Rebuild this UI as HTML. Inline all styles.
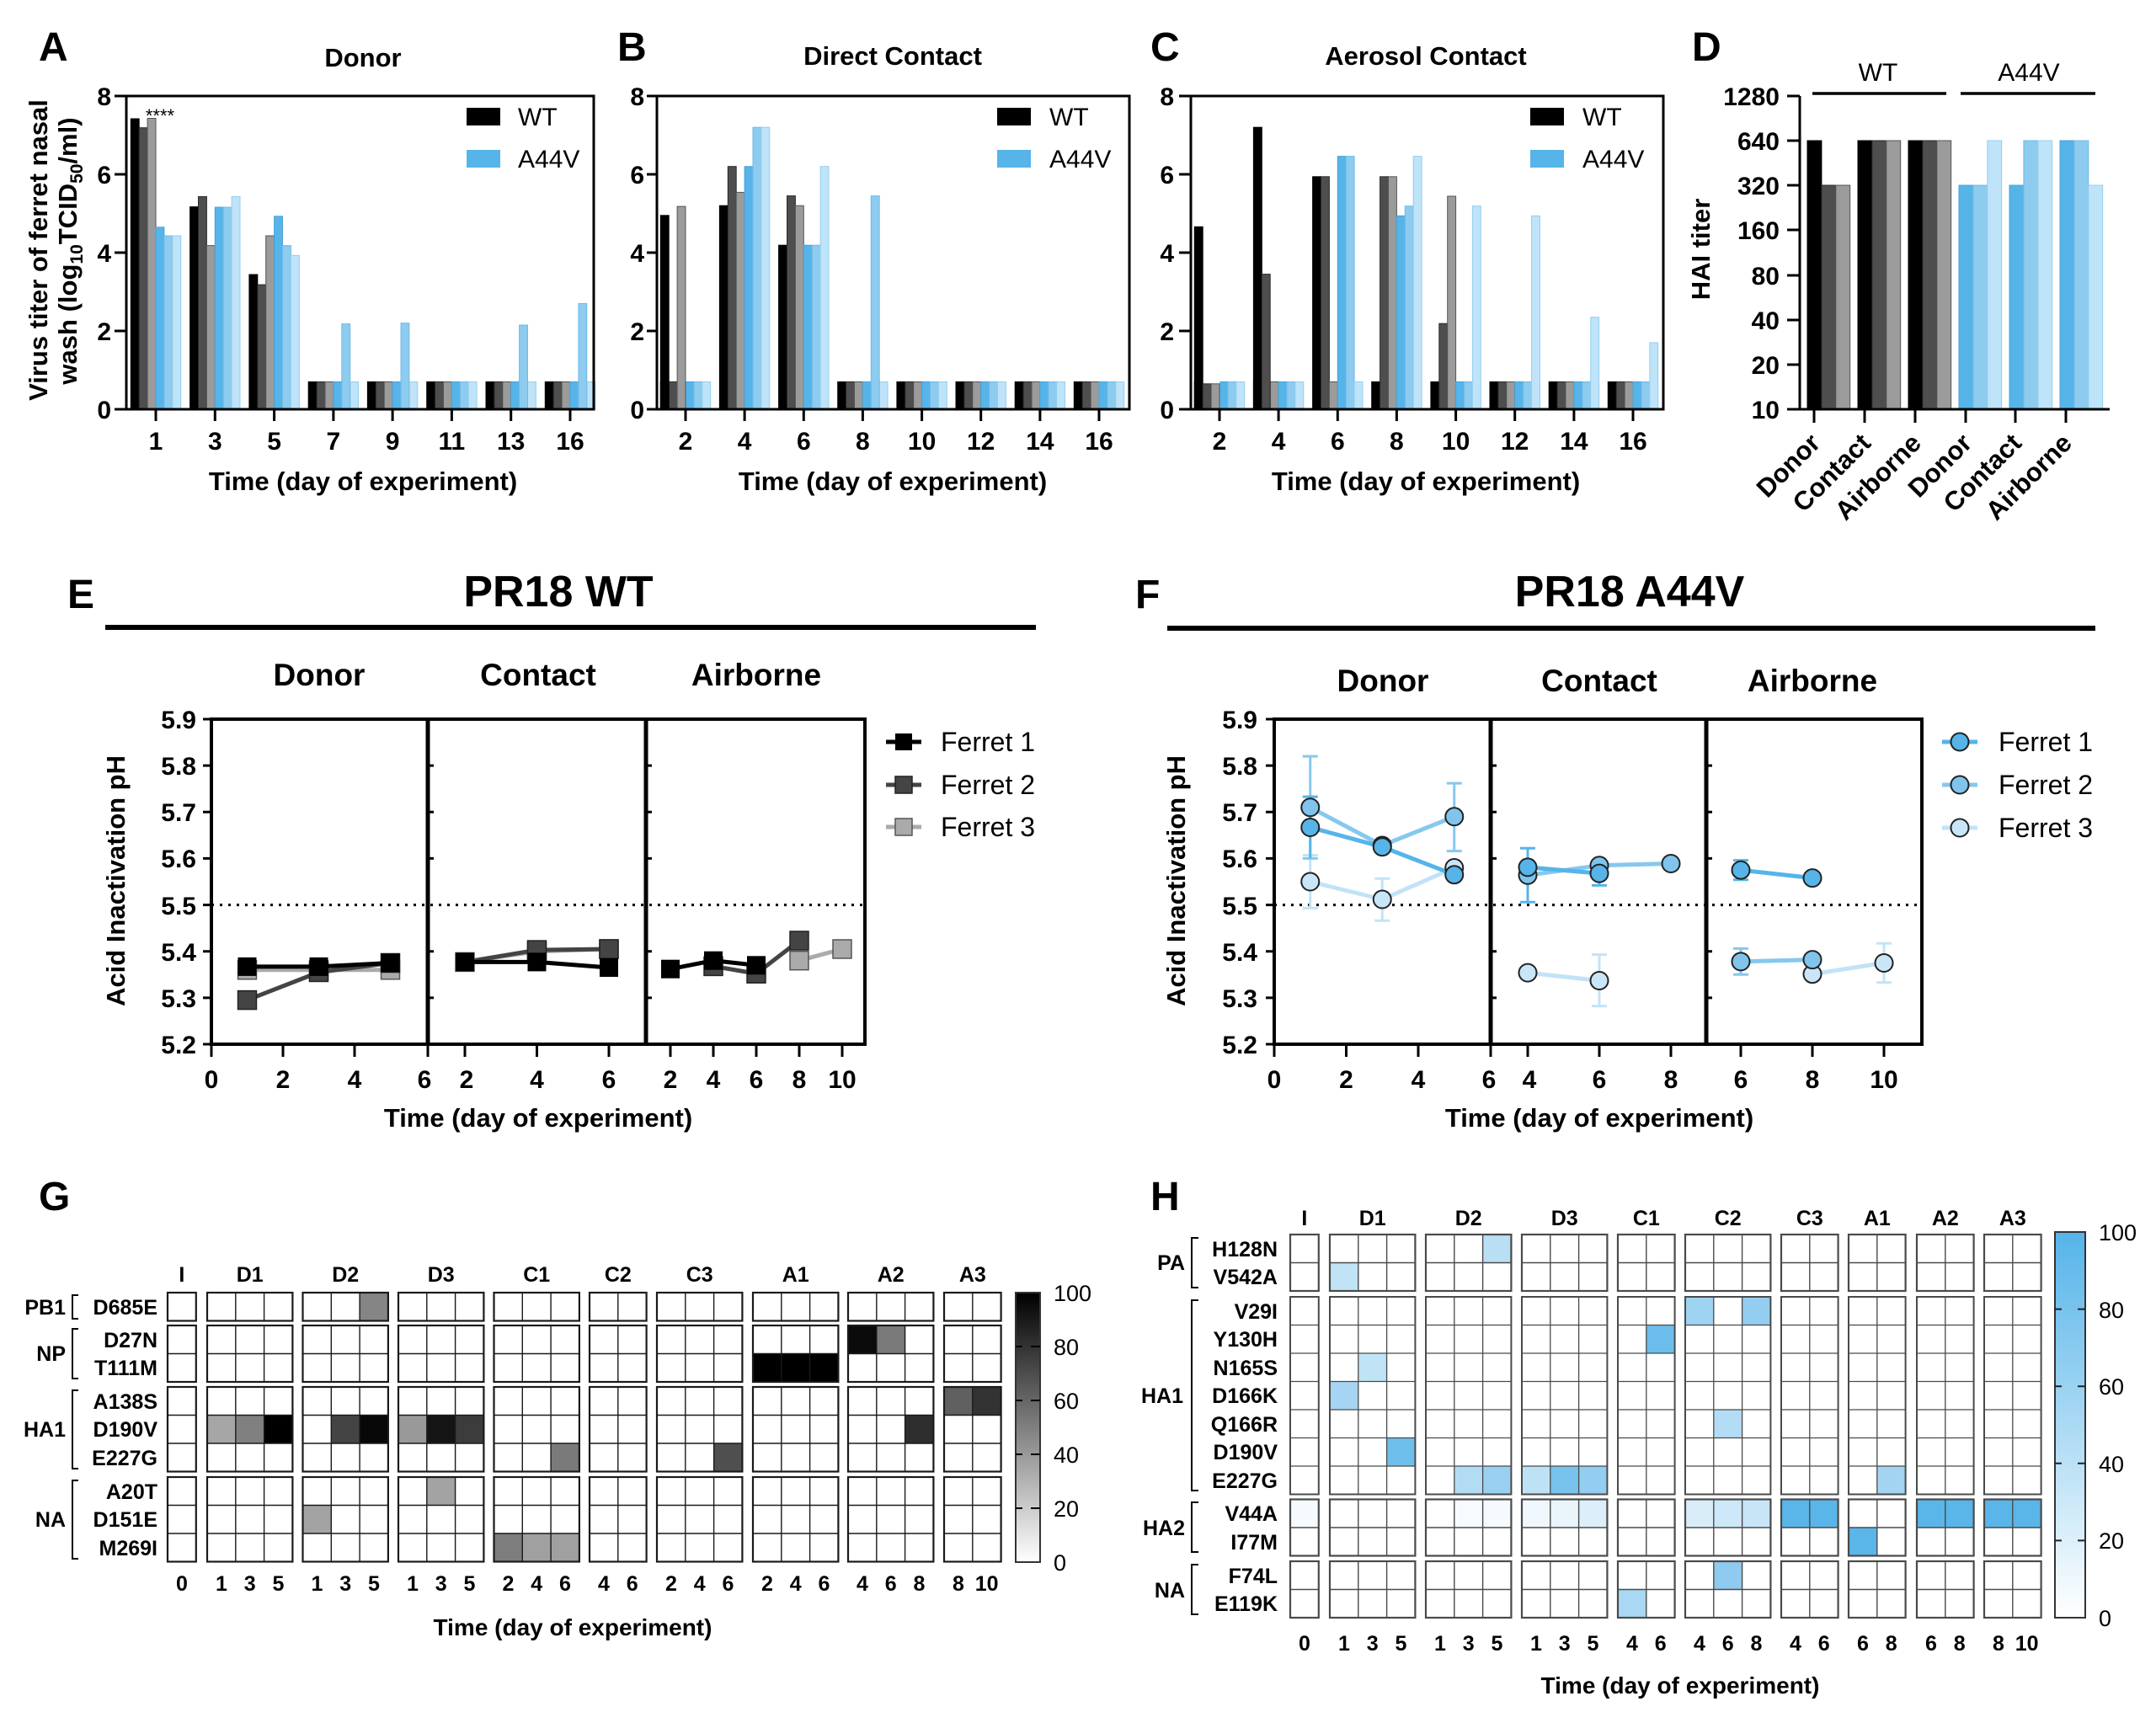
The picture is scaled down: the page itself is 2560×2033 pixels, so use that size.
<!DOCTYPE html>
<html><head><meta charset="utf-8"><style>
html,body{margin:0;padding:0;background:#fff}
svg{display:block}
text{font-family:"Liberation Sans",Arial,sans-serif;fill:#000}
.bd{font-weight:bold}
.k{fill:#000;stroke:#000}
.d{fill:#4e4e4e;stroke:#2a2a2a}
.g{fill:#9b9b9b;stroke:#555}
.b1{fill:#56b4e9;stroke:#4aa3d6}
.b2{fill:#8dcbef;stroke:#6fbbe8}
.b3{fill:#bfe3f8;stroke:#94cff0}
.bars rect{stroke-width:1}
</style></head><body>
<svg width="2560" height="2033" viewBox="0 0 2560 2033" xmlns="http://www.w3.org/2000/svg">
<defs>
<g id="low" stroke-width="1">
<rect x="0" y="-32.6" width="9.9" height="32.6" fill="#000" stroke="#000"/>
<rect x="9.9" y="-32.6" width="9.9" height="32.6" fill="#4e4e4e" stroke="#2a2a2a"/>
<rect x="19.8" y="-32.6" width="9.9" height="32.6" fill="#9b9b9b" stroke="#555"/>
<rect x="29.7" y="-32.6" width="9.9" height="32.6" fill="#56b4e9" stroke="#4aa3d6"/>
<rect x="39.6" y="-32.6" width="9.9" height="32.6" fill="#8dcbef" stroke="#6fbbe8"/>
<rect x="49.5" y="-32.6" width="9.9" height="32.6" fill="#bfe3f8" stroke="#94cff0"/>
</g>
<g id="c1r1" fill="none"><rect width="33.8" height="33.5" stroke-width="2.2"/></g>
<g id="c2r1" fill="none"><path d="M33.8,0V33.5" stroke-width="1.4"/><rect width="67.6" height="33.5" stroke-width="2.2"/></g>
<g id="c3r1" fill="none"><path d="M33.8,0V33.5M67.6,0V33.5" stroke-width="1.4"/><rect width="101.4" height="33.5" stroke-width="2.2"/></g>
<g id="c1r2" fill="none"><path d="M0,33.5H33.8" stroke-width="1.4"/><rect width="33.8" height="67" stroke-width="2.2"/></g>
<g id="c2r2" fill="none"><path d="M33.8,0V67M0,33.5H67.6" stroke-width="1.4"/><rect width="67.6" height="67" stroke-width="2.2"/></g>
<g id="c3r2" fill="none"><path d="M33.8,0V67M67.6,0V67M0,33.5H101.4" stroke-width="1.4"/><rect width="101.4" height="67" stroke-width="2.2"/></g>
<g id="c1r3" fill="none"><path d="M0,33.5H33.8M0,67H33.8" stroke-width="1.4"/><rect width="33.8" height="100.5" stroke-width="2.2"/></g>
<g id="c2r3" fill="none"><path d="M33.8,0V100.5M0,33.5H67.6M0,67H67.6" stroke-width="1.4"/><rect width="67.6" height="100.5" stroke-width="2.2"/></g>
<g id="c3r3" fill="none"><path d="M33.8,0V100.5M67.6,0V100.5M0,33.5H101.4M0,67H101.4" stroke-width="1.4"/><rect width="101.4" height="100.5" stroke-width="2.2"/></g>
<g id="c1r7" fill="none"><path d="M0,33.5H33.8M0,67H33.8M0,100.5H33.8M0,134H33.8M0,167.5H33.8M0,201H33.8" stroke-width="1.3"/><rect width="33.8" height="234.5" stroke-width="2"/></g>
<g id="c2r7" fill="none"><path d="M33.8,0V234.5M0,33.5H67.6M0,67H67.6M0,100.5H67.6M0,134H67.6M0,167.5H67.6M0,201H67.6" stroke-width="1.3"/><rect width="67.6" height="234.5" stroke-width="2"/></g>
<g id="c3r7" fill="none"><path d="M33.8,0V234.5M67.6,0V234.5M0,33.5H101.4M0,67H101.4M0,100.5H101.4M0,134H101.4M0,167.5H101.4M0,201H101.4" stroke-width="1.3"/><rect width="101.4" height="234.5" stroke-width="2"/></g>
<linearGradient id="gk" x1="0" y1="0" x2="0" y2="1"><stop offset="0" stop-color="#000"/><stop offset="1" stop-color="#fff"/></linearGradient>
<linearGradient id="gb" x1="0" y1="0" x2="0" y2="1"><stop offset="0" stop-color="#56b4e9"/><stop offset="1" stop-color="#fff"/></linearGradient>
</defs>
<rect width="2560" height="2033" fill="#fff"/>

<!-- ================= PANEL A ================= -->
<text x="46" y="72" font-size="48" class="bd">A</text>
<text x="431" y="79" font-size="31" class="bd" text-anchor="middle">Donor</text>
<g class="bars">
<g transform="translate(155.3,486)">
<rect class="k" x="0" y="-345" width="9.9" height="345"/>
<rect class="d" x="9.9" y="-334.3" width="9.9" height="334.3"/>
<rect class="g" x="19.8" y="-345.5" width="9.9" height="345.5"/>
<rect class="b1" x="29.7" y="-216.2" width="9.9" height="216.2"/>
<rect class="b2" x="39.6" y="-206" width="9.9" height="206"/>
<rect class="b3" x="49.5" y="-206" width="9.9" height="206"/>
</g>
<g transform="translate(225.6,486)">
<rect class="k" x="0" y="-240.4" width="9.9" height="240.4"/>
<rect class="d" x="9.9" y="-252.5" width="9.9" height="252.5"/>
<rect class="g" x="19.8" y="-194.4" width="9.9" height="194.4"/>
<rect class="b1" x="29.7" y="-239.9" width="9.9" height="239.9"/>
<rect class="b2" x="39.6" y="-239.9" width="9.9" height="239.9"/>
<rect class="b3" x="49.5" y="-252.5" width="9.9" height="252.5"/>
</g>
<g transform="translate(295.9,486)">
<rect class="k" x="0" y="-160" width="9.9" height="160"/>
<rect class="d" x="9.9" y="-147.9" width="9.9" height="147.9"/>
<rect class="g" x="19.8" y="-206" width="9.9" height="206"/>
<rect class="b1" x="29.7" y="-229.2" width="9.9" height="229.2"/>
<rect class="b2" x="39.6" y="-194.4" width="9.9" height="194.4"/>
<rect class="b3" x="49.5" y="-182.7" width="9.9" height="182.7"/>
</g>
<use href="#low" x="366.2" y="486"/><rect class="b2" x="405.8" y="384.6" width="9.9" height="101.4"/>
<use href="#low" x="436.4" y="486"/><rect class="b2" x="476" y="383.7" width="9.9" height="102.3"/>
<use href="#low" x="506.7" y="486"/>
<use href="#low" x="577" y="486"/><rect class="b2" x="616.6" y="386" width="9.9" height="100"/>
<use href="#low" x="647.3" y="486"/><rect class="b2" x="686.9" y="360.4" width="9.9" height="125.6"/>
</g>
<rect x="150" y="114" width="555" height="372" fill="none" stroke="#000" stroke-width="3"/>
<path d="M136,114H150M136,207H150M136,300H150M136,393H150M136,486H150M185,486V500M255.3,486V500M325.6,486V500M395.9,486V500M466.1,486V500M536.4,486V500M606.7,486V500M677,486V500" stroke="#000" stroke-width="3"/>
<g font-size="30" class="bd" text-anchor="end">
<text x="132" y="125">8</text><text x="132" y="218">6</text><text x="132" y="311">4</text><text x="132" y="404">2</text><text x="132" y="497">0</text>
</g>
<g font-size="30" class="bd" text-anchor="middle">
<text x="185" y="534">1</text><text x="255.3" y="534">3</text><text x="325.6" y="534">5</text><text x="395.9" y="534">7</text><text x="466.1" y="534">9</text><text x="536.4" y="534">11</text><text x="606.7" y="534">13</text><text x="677" y="534">16</text>
</g>
<text x="431" y="582" font-size="31" class="bd" text-anchor="middle">Time (day of experiment)</text>
<text transform="translate(56,297) rotate(-90)" font-size="31" class="bd" text-anchor="middle">Virus titer of ferret nasal</text>
<text transform="translate(91,298) rotate(-90)" font-size="31" class="bd" text-anchor="middle">wash (log<tspan font-size="21" dy="7">10</tspan><tspan dy="-7">TCID</tspan><tspan font-size="21" dy="7">50</tspan><tspan dy="-7">/ml)</tspan></text>
<text x="190" y="145" font-size="22" text-anchor="middle">****</text>
<rect x="554" y="128" width="40" height="21" fill="#000"/>
<text x="615" y="149" font-size="30">WT</text>
<rect x="554" y="178" width="40" height="21" fill="#56b4e9"/>
<text x="615" y="199" font-size="30">A44V</text>

<!-- ================= PANEL B ================= -->
<text x="733" y="72" font-size="48" class="bd">B</text>
<text x="1060" y="77" font-size="31" class="bd" text-anchor="middle">Direct Contact</text>
<g class="bars">
<use href="#low" x="784.3" y="486"/>
<rect class="k" x="784.3" y="255.8" width="9.9" height="230.2"/>
<rect class="g" x="804.1" y="245.1" width="9.9" height="240.9"/>
<g transform="translate(854.4,486)">
<rect class="k" x="0" y="-241.8" width="9.9" height="241.8"/>
<rect class="d" x="9.9" y="-288.3" width="9.9" height="288.3"/>
<rect class="g" x="19.8" y="-257.6" width="9.9" height="257.6"/>
<rect class="b1" x="29.7" y="-288.3" width="9.9" height="288.3"/>
<rect class="b2" x="39.6" y="-334.8" width="9.9" height="334.8"/>
<rect class="b3" x="49.5" y="-334.8" width="9.9" height="334.8"/>
</g>
<g transform="translate(924.6,486)">
<rect class="k" x="0" y="-194.8" width="9.9" height="194.8"/>
<rect class="d" x="9.9" y="-253.4" width="9.9" height="253.4"/>
<rect class="g" x="19.8" y="-241.8" width="9.9" height="241.8"/>
<rect class="b1" x="29.7" y="-194.8" width="9.9" height="194.8"/>
<rect class="b2" x="39.6" y="-194.8" width="9.9" height="194.8"/>
<rect class="b3" x="49.5" y="-288.3" width="9.9" height="288.3"/>
</g>
<use href="#low" x="994.7" y="486"/><rect class="b2" x="1034.3" y="232.6" width="9.9" height="253.4"/>
<use href="#low" x="1064.9" y="486"/>
<use href="#low" x="1135" y="486"/>
<use href="#low" x="1205.2" y="486"/>
<use href="#low" x="1275.3" y="486"/>
</g>
<rect x="780" y="114" width="561" height="372" fill="none" stroke="#000" stroke-width="3"/>
<path d="M768,114H780M768,207H780M768,300H780M768,393H780M768,486H780M814,486V500M884.1,486V500M954.3,486V500M1024.4,486V500M1094.6,486V500M1164.7,486V500M1234.9,486V500M1305,486V500" stroke="#000" stroke-width="3"/>
<g font-size="30" class="bd" text-anchor="end">
<text x="765" y="125">8</text><text x="765" y="218">6</text><text x="765" y="311">4</text><text x="765" y="404">2</text><text x="765" y="497">0</text>
</g>
<g font-size="30" class="bd" text-anchor="middle">
<text x="814" y="534">2</text><text x="884.1" y="534">4</text><text x="954.3" y="534">6</text><text x="1024.4" y="534">8</text><text x="1094.6" y="534">10</text><text x="1164.7" y="534">12</text><text x="1234.9" y="534">14</text><text x="1305" y="534">16</text>
</g>
<text x="1060" y="582" font-size="31" class="bd" text-anchor="middle">Time (day of experiment)</text>
<rect x="1184" y="128" width="40" height="21" fill="#000"/>
<text x="1246" y="149" font-size="30">WT</text>
<rect x="1184" y="178" width="40" height="21" fill="#56b4e9"/>
<text x="1246" y="199" font-size="30">A44V</text>

<!-- ================= PANEL C ================= -->
<text x="1366" y="72" font-size="48" class="bd">C</text>
<text x="1693" y="77" font-size="31" class="bd" text-anchor="middle">Aerosol Contact</text>
<g class="bars">
<use href="#low" x="1418.3" y="486"/>
<rect fill="#fff" stroke="none" x="1427.7" y="450" width="20.6" height="36"/>
<g transform="translate(1418.3,486)">
<rect class="k" x="0" y="-216.7" width="9.9" height="216.7"/>
<rect class="d" x="9.9" y="-30.2" width="9.9" height="30.2"/>
<rect class="g" x="19.8" y="-30.2" width="9.9" height="30.2"/>
</g>
<use href="#low" x="1488.4" y="486"/>
<g transform="translate(1488.4,486)">
<rect class="k" x="0" y="-334.8" width="9.9" height="334.8"/>
<rect class="d" x="9.9" y="-160.4" width="9.9" height="160.4"/>
</g>
<g transform="translate(1558.6,486)">
<rect class="k" x="0" y="-276.2" width="9.9" height="276.2"/>
<rect class="d" x="9.9" y="-276.2" width="9.9" height="276.2"/>
<rect class="g" x="19.8" y="-32.6" width="9.9" height="32.6"/>
<rect class="b1" x="29.7" y="-300.4" width="9.9" height="300.4"/>
<rect class="b2" x="39.6" y="-300.4" width="9.9" height="300.4"/>
<rect class="b3" x="49.5" y="-32.6" width="9.9" height="32.6"/>
</g>
<g transform="translate(1628.7,486)">
<rect class="k" x="0" y="-32.6" width="9.9" height="32.6"/>
<rect class="d" x="9.9" y="-276.2" width="9.9" height="276.2"/>
<rect class="g" x="19.8" y="-276.2" width="9.9" height="276.2"/>
<rect class="b1" x="29.7" y="-229.7" width="9.9" height="229.7"/>
<rect class="b2" x="39.6" y="-241.3" width="9.9" height="241.3"/>
<rect class="b3" x="49.5" y="-300.4" width="9.9" height="300.4"/>
</g>
<g transform="translate(1698.9,486)">
<rect class="k" x="0" y="-32.6" width="9.9" height="32.6"/>
<rect class="d" x="9.9" y="-101.8" width="9.9" height="101.8"/>
<rect class="g" x="19.8" y="-253" width="9.9" height="253"/>
<rect class="b1" x="29.7" y="-32.6" width="9.9" height="32.6"/>
<rect class="b2" x="39.6" y="-32.6" width="9.9" height="32.6"/>
<rect class="b3" x="49.5" y="-241.3" width="9.9" height="241.3"/>
</g>
<use href="#low" x="1769" y="486"/><rect class="b3" x="1818.5" y="256.3" width="9.9" height="229.7"/>
<use href="#low" x="1839.2" y="486"/><rect class="b3" x="1888.7" y="376.7" width="9.9" height="109.3"/>
<use href="#low" x="1909.3" y="486"/><rect class="b3" x="1958.8" y="406.9" width="9.9" height="79.1"/>
</g>
<rect x="1414" y="114" width="561" height="372" fill="none" stroke="#000" stroke-width="3"/>
<path d="M1400,114H1414M1400,207H1414M1400,300H1414M1400,393H1414M1400,486H1414M1448,486V500M1518.1,486V500M1588.3,486V500M1658.4,486V500M1728.6,486V500M1798.7,486V500M1868.9,486V500M1939,486V500" stroke="#000" stroke-width="3"/>
<g font-size="30" class="bd" text-anchor="end">
<text x="1394" y="125">8</text><text x="1394" y="218">6</text><text x="1394" y="311">4</text><text x="1394" y="404">2</text><text x="1394" y="497">0</text>
</g>
<g font-size="30" class="bd" text-anchor="middle">
<text x="1448" y="534">2</text><text x="1518.1" y="534">4</text><text x="1588.3" y="534">6</text><text x="1658.4" y="534">8</text><text x="1728.6" y="534">10</text><text x="1798.7" y="534">12</text><text x="1868.9" y="534">14</text><text x="1939" y="534">16</text>
</g>
<text x="1693" y="582" font-size="31" class="bd" text-anchor="middle">Time (day of experiment)</text>
<rect x="1817" y="128" width="40" height="21" fill="#000"/>
<text x="1879" y="149" font-size="30">WT</text>
<rect x="1817" y="178" width="40" height="21" fill="#56b4e9"/>
<text x="1879" y="199" font-size="30">A44V</text>

<!-- ================= PANEL D ================= -->
<text x="2009" y="72" font-size="48" class="bd">D</text>
<text x="2230" y="96" font-size="30" text-anchor="middle">WT</text>
<text x="2409" y="96" font-size="30" text-anchor="middle">A44V</text>
<path d="M2152,111H2311M2328,111H2488" stroke="#000" stroke-width="3.5"/>
<g class="bars">
<rect class="k" x="2146" y="167" width="16.9" height="319"/>
<rect class="d" x="2162.9" y="220" width="16.9" height="266"/>
<rect class="g" x="2179.8" y="220" width="16.9" height="266"/>
<rect class="k" x="2206" y="167" width="16.9" height="319"/>
<rect class="d" x="2222.9" y="167" width="16.9" height="319"/>
<rect class="g" x="2239.8" y="167" width="16.9" height="319"/>
<rect class="k" x="2266" y="167" width="16.9" height="319"/>
<rect class="d" x="2282.9" y="167" width="16.9" height="319"/>
<rect class="g" x="2299.8" y="167" width="16.9" height="319"/>
<rect class="b1" x="2326" y="220" width="16.9" height="266"/>
<rect class="b2" x="2342.9" y="220" width="16.9" height="266"/>
<rect class="b3" x="2359.8" y="167" width="16.9" height="319"/>
<rect class="b1" x="2386" y="220" width="16.9" height="266"/>
<rect class="b2" x="2402.9" y="167" width="16.9" height="319"/>
<rect class="b3" x="2419.8" y="167" width="16.9" height="319"/>
<rect class="b1" x="2446" y="167" width="16.9" height="319"/>
<rect class="b2" x="2462.9" y="167" width="16.9" height="319"/>
<rect class="b3" x="2479.8" y="220" width="16.9" height="266"/>
</g>
<path d="M2137,114V487M2122,486H2505M2122,114H2137M2122,167H2137M2122,220H2137M2122,273H2137M2122,327H2137M2122,380H2137M2122,433H2137M2154,486V502M2214,486V502M2274,486V502M2334,486V502M2393,486V502M2453,486V502" stroke="#000" stroke-width="3"/>
<g font-size="30" class="bd" text-anchor="end">
<text x="2113" y="125">1280</text><text x="2113" y="178">640</text><text x="2113" y="231">320</text><text x="2113" y="284">160</text><text x="2113" y="338">80</text><text x="2113" y="391">40</text><text x="2113" y="444">20</text><text x="2113" y="497">10</text>
</g>
<g font-size="31" class="bd" text-anchor="end">
<text transform="translate(2163,528) rotate(-45)">Donor</text>
<text transform="translate(2223,528) rotate(-45)">Contact</text>
<text transform="translate(2283,528) rotate(-45)">Airborne</text>
<text transform="translate(2343,528) rotate(-45)">Donor</text>
<text transform="translate(2402,528) rotate(-45)">Contact</text>
<text transform="translate(2462,528) rotate(-45)">Airborne</text>
</g>
<text transform="translate(2030,296) rotate(-90)" font-size="31" class="bd" text-anchor="middle">HAI titer</text>

<!-- ================= PANEL E ================= -->
<text x="80" y="722" font-size="48" class="bd">E</text>
<text x="663" y="720" font-size="52" class="bd" text-anchor="middle">PR18 WT</text>
<path d="M125,745H1230" stroke="#000" stroke-width="6"/>
<g font-size="37" class="bd" text-anchor="middle">
<text x="379" y="814">Donor</text><text x="639" y="814">Contact</text><text x="898" y="814">Airborne</text>
</g>
<path d="M251,1074.6H1027" stroke="#000" stroke-width="3" stroke-dasharray="3,7"/>
<rect x="251" y="854" width="776" height="386" fill="none" stroke="#000" stroke-width="4"/>
<path d="M508,854V1240M767,854V1240" stroke="#000" stroke-width="5"/>
<path d="M241,854H251M241,909.1H251M241,964.3H251M241,1019.4H251M241,1074.6H251M241,1129.7H251M241,1184.9H251M241,1240H251M508,909.1H515M508,964.3H515M508,1019.4H515M508,1129.7H515M508,1184.9H515M767,909.1H774M767,964.3H774M767,1019.4H774M767,1129.7H774M767,1184.9H774M251,1240V1255M336,1240V1255M421,1240V1255M508,1240V1255M552,1240V1255M637.5,1240V1255M723,1240V1255M796,1240V1255M847,1240V1255M898,1240V1255M949,1240V1255M1000,1240V1255" stroke="#000" stroke-width="3"/>
<g font-size="30" class="bd" text-anchor="end">
<text x="233" y="865">5.9</text><text x="233" y="920">5.8</text><text x="233" y="975">5.7</text><text x="233" y="1030">5.6</text><text x="233" y="1086">5.5</text><text x="233" y="1141">5.4</text><text x="233" y="1196">5.3</text><text x="233" y="1251">5.2</text>
</g>
<g font-size="30" class="bd" text-anchor="middle">
<text x="251" y="1292">0</text><text x="336" y="1292">2</text><text x="421" y="1292">4</text><text x="504" y="1292">6</text><text x="554" y="1292">2</text><text x="637.5" y="1292">4</text><text x="723" y="1292">6</text><text x="796" y="1292">2</text><text x="847" y="1292">4</text><text x="898" y="1292">6</text><text x="949" y="1292">8</text><text x="1000" y="1292">10</text>
</g>
<text x="639" y="1338" font-size="31" class="bd" text-anchor="middle">Time (day of experiment)</text>
<text transform="translate(148,1046) rotate(-90)" font-size="31" class="bd" text-anchor="middle">Acid Inactivation pH</text>
<!-- E data -->
<g fill="none" stroke-width="5" stroke-linejoin="round">
<polyline points="293.5,1151.8 378.5,1151.8 463.5,1151.8" stroke="#aaa"/>
<polyline points="552,1142.4 637.5,1129.7 723,1127" stroke="#aaa"/>
<polyline points="949,1140.7 1000,1127" stroke="#aaa"/>
<polyline points="293.5,1187.6 378.5,1154.5 463.5,1143.5" stroke="#444"/>
<polyline points="552,1142.4 637.5,1128.1 723,1127" stroke="#444"/>
<polyline points="847,1147.4 898,1156.2 949,1117" stroke="#444"/>
</g>
<g fill="#aaa" stroke="#555" stroke-width="1.5">
<rect x="282.5" y="1140.8" width="22" height="22"/><rect x="367.5" y="1140.8" width="22" height="22"/><rect x="452.5" y="1140.8" width="22" height="22"/>
<rect x="541" y="1131.4" width="22" height="22"/><rect x="626.5" y="1118.7" width="22" height="22"/><rect x="712" y="1116" width="22" height="22"/>
<rect x="938" y="1129.7" width="22" height="22"/><rect x="989" y="1116" width="22" height="22"/>
</g>
<g fill="#444" stroke="#222" stroke-width="1.5">
<rect x="282.5" y="1176.6" width="22" height="22"/><rect x="367.5" y="1143.5" width="22" height="22"/><rect x="452.5" y="1132.5" width="22" height="22"/>
<rect x="626.5" y="1117.1" width="22" height="22"/><rect x="712" y="1116" width="22" height="22"/>
<rect x="836" y="1136.4" width="22" height="22"/><rect x="887" y="1145.2" width="22" height="22"/><rect x="938" y="1106" width="22" height="22"/>
</g>
<polyline points="293.5,1147.9 378.5,1147.9 463.5,1143.5" fill="none" stroke="#000" stroke-width="5"/>
<polyline points="552,1142.4 637.5,1142.4 723,1149" fill="none" stroke="#000" stroke-width="5"/>
<polyline points="796,1150.7 847,1140.7 898,1146.3" fill="none" stroke="#000" stroke-width="5"/>
<g fill="#000">
<rect x="282.5" y="1136.9" width="22" height="22"/><rect x="367.5" y="1136.9" width="22" height="22"/><rect x="452.5" y="1132.5" width="22" height="22"/>
<rect x="541" y="1131.4" width="22" height="22"/><rect x="626.5" y="1131.4" width="22" height="22"/><rect x="712" y="1138" width="22" height="22"/>
<rect x="785" y="1139.7" width="22" height="22"/><rect x="836" y="1129.7" width="22" height="22"/><rect x="887" y="1135.3" width="22" height="22"/>
</g>
<!-- E legend -->
<path d="M1052,881H1094" stroke="#000" stroke-width="5"/><rect x="1063" y="871" width="20" height="20" fill="#000"/>
<path d="M1052,932H1094" stroke="#444" stroke-width="5"/><rect x="1063" y="922" width="20" height="20" fill="#444" stroke="#222" stroke-width="1.5"/>
<path d="M1052,982H1094" stroke="#aaa" stroke-width="5"/><rect x="1063" y="972" width="20" height="20" fill="#aaa" stroke="#555" stroke-width="1.5"/>
<g font-size="32"><text x="1117" y="892">Ferret 1</text><text x="1117" y="943">Ferret 2</text><text x="1117" y="993">Ferret 3</text></g>

<!-- ================= PANEL F ================= -->
<text x="1348" y="722" font-size="48" class="bd">F</text>
<text x="1935" y="720" font-size="52" class="bd" text-anchor="middle">PR18 A44V</text>
<path d="M1386,746H2488" stroke="#000" stroke-width="6"/>
<g font-size="37" class="bd" text-anchor="middle">
<text x="1642" y="821">Donor</text><text x="1899" y="821">Contact</text><text x="2152" y="821">Airborne</text>
</g>
<path d="M1513,1074.6H2282" stroke="#000" stroke-width="3" stroke-dasharray="3,7"/>
<rect x="1513" y="854" width="769" height="386" fill="none" stroke="#000" stroke-width="4"/>
<path d="M1770,854V1240M2026,854V1240" stroke="#000" stroke-width="5"/>
<path d="M1503,854H1513M1503,909.1H1513M1503,964.3H1513M1503,1019.4H1513M1503,1074.6H1513M1503,1129.7H1513M1503,1184.9H1513M1503,1240H1513M1770,909.1H1777M1770,964.3H1777M1770,1019.4H1777M1770,1129.7H1777M1770,1184.9H1777M2026,909.1H2033M2026,964.3H2033M2026,1019.4H2033M2026,1129.7H2033M2026,1184.9H2033M1513,1240V1255M1598.5,1240V1255M1684,1240V1255M1770,1240V1255M1814,1240V1255M1899,1240V1255M1984,1240V1255M2067,1240V1255M2152,1240V1255M2237,1240V1255" stroke="#000" stroke-width="3"/>
<g font-size="30" class="bd" text-anchor="end">
<text x="1493" y="865">5.9</text><text x="1493" y="920">5.8</text><text x="1493" y="975">5.7</text><text x="1493" y="1030">5.6</text><text x="1493" y="1086">5.5</text><text x="1493" y="1141">5.4</text><text x="1493" y="1196">5.3</text><text x="1493" y="1251">5.2</text>
</g>
<g font-size="30" class="bd" text-anchor="middle">
<text x="1513" y="1292">0</text><text x="1598.5" y="1292">2</text><text x="1684" y="1292">4</text><text x="1768" y="1292">6</text><text x="1816" y="1292">4</text><text x="1899" y="1292">6</text><text x="1984" y="1292">8</text><text x="2067" y="1292">6</text><text x="2152" y="1292">8</text><text x="2237" y="1292">10</text>
</g>
<text x="1899" y="1338" font-size="31" class="bd" text-anchor="middle">Time (day of experiment)</text>
<text transform="translate(1407,1046) rotate(-90)" font-size="31" class="bd" text-anchor="middle">Acid Inactivation pH</text>
<!-- F error bars -->
<g fill="none" stroke-width="3">
<path d="M1555.75,1015.6V1078.4M1546.75,1015.6H1564.75M1546.75,1078.4H1564.75M1641.25,1043.2V1093.3M1632.25,1043.2H1650.25M1632.25,1093.3H1650.25M1899,1133.6V1194.8M1890,1133.6H1908M1890,1194.8H1908M2237,1120.3V1166.7M2228,1120.3H2246M2228,1166.7H2246" stroke="#c2e3f7"/>
<path d="M1555.75,898.1V1019.4M1546.75,898.1H1564.75M1546.75,1019.4H1564.75M1726.75,930.1V1010.6M1717.75,930.1H1735.75M1717.75,1010.6H1735.75M2067,1126.4V1157.3M2058,1126.4H2076M2058,1157.3H2076" stroke="#86c8ee"/>
<path d="M1555.75,946.1V1019.4M1546.75,946.1H1564.75M1814,1007.3V1071.3M1805,1007.3H1823M1805,1071.3H1823M1899,1023.3V1051.4M1890,1023.3H1908M1890,1051.4H1908M2067,1021.6V1044.8M2058,1021.6H2076M2058,1044.8H2076" stroke="#56b4e9"/>
</g>
<g fill="none" stroke-width="5" stroke-linejoin="round">
<polyline points="1555.75,1047 1641.25,1068 1726.75,1030.5" stroke="#c2e3f7"/>
<polyline points="1814,1155.1 1899,1164.5" stroke="#c2e3f7"/>
<polyline points="2152,1156.7 2237,1143.5" stroke="#c2e3f7"/>
<polyline points="1555.75,958.8 1641.25,1004 1726.75,969.8" stroke="#86c8ee"/>
<polyline points="1814,1039.3 1899,1027.7 1984,1025.5" stroke="#86c8ee"/>
<polyline points="2067,1141.9 2152,1139.6" stroke="#86c8ee"/>
<polyline points="1555.75,982.5 1641.25,1005.7 1726.75,1038.7" stroke="#56b4e9"/>
<polyline points="1814,1029.9 1899,1037.1" stroke="#56b4e9"/>
<polyline points="2067,1033.2 2152,1042.6" stroke="#56b4e9"/>
</g>
<g stroke="#222" stroke-width="2">
<g fill="#c8e6f8">
<circle cx="1555.75" cy="1047" r="10.5"/><circle cx="1641.25" cy="1068" r="10.5"/><circle cx="1726.75" cy="1030.5" r="10.5"/>
<circle cx="1814" cy="1155.1" r="10.5"/><circle cx="1899" cy="1164.5" r="10.5"/>
<circle cx="2152" cy="1156.7" r="10.5"/><circle cx="2237" cy="1143.5" r="10.5"/>
</g>
<g fill="#80c4ec">
<circle cx="1555.75" cy="958.8" r="10.5"/><circle cx="1641.25" cy="1004" r="10.5"/><circle cx="1726.75" cy="969.8" r="10.5"/>
<circle cx="1814" cy="1039.3" r="10.5"/><circle cx="1899" cy="1027.7" r="10.5"/><circle cx="1984" cy="1025.5" r="10.5"/>
<circle cx="2067" cy="1141.9" r="10.5"/><circle cx="2152" cy="1139.6" r="10.5"/>
</g>
<g fill="#56b4e9">
<circle cx="1555.75" cy="982.5" r="10.5"/><circle cx="1641.25" cy="1005.7" r="10.5"/><circle cx="1726.75" cy="1038.7" r="10.5"/>
<circle cx="1814" cy="1029.9" r="10.5"/><circle cx="1899" cy="1037.1" r="10.5"/>
<circle cx="2067" cy="1033.2" r="10.5"/><circle cx="2152" cy="1042.6" r="10.5"/>
</g>
</g>
<!-- F legend -->
<path d="M2306,881H2348" stroke="#56b4e9" stroke-width="5"/><circle cx="2327" cy="881" r="10.5" fill="#56b4e9" stroke="#222" stroke-width="2"/>
<path d="M2306,932H2348" stroke="#86c8ee" stroke-width="5"/><circle cx="2327" cy="932" r="10.5" fill="#80c4ec" stroke="#222" stroke-width="2"/>
<path d="M2306,983H2348" stroke="#c2e3f7" stroke-width="5"/><circle cx="2327" cy="983" r="10.5" fill="#c8e6f8" stroke="#222" stroke-width="2"/>
<g font-size="32"><text x="2373" y="892">Ferret 1</text><text x="2373" y="943">Ferret 2</text><text x="2373" y="994">Ferret 3</text></g>

<!-- ================= PANEL G ================= -->
<text x="46" y="1437" font-size="48" class="bd">G</text>
<g font-size="25" class="bd" text-anchor="middle">
<text x="215.9" y="1522">I</text><text x="296.7" y="1522">D1</text><text x="410.2" y="1522">D2</text><text x="523.7" y="1522">D3</text><text x="637.2" y="1522">C1</text><text x="733.8" y="1522">C2</text><text x="830.7" y="1522">C3</text><text x="944.7" y="1522">A1</text><text x="1057.7" y="1522">A2</text><text x="1154.8" y="1522">A3</text>
</g>
<!-- G colored cells -->
<g stroke="none">
<rect x="427.1" y="1535" width="33.8" height="33.5" fill="#858585"/>
<rect x="1007" y="1574" width="33.8" height="33.5" fill="#0a0a0a"/>
<rect x="1040.8" y="1574" width="33.8" height="33.5" fill="#7a7a7a"/>
<rect x="894" y="1607.5" width="101.4" height="33.5" fill="#000"/>
<rect x="1121" y="1647" width="33.8" height="33.5" fill="#606060"/>
<rect x="1154.8" y="1647" width="33.8" height="33.5" fill="#333"/>
<rect x="246" y="1680.5" width="33.8" height="33.5" fill="#a6a6a6"/>
<rect x="279.8" y="1680.5" width="33.8" height="33.5" fill="#808080"/>
<rect x="313.6" y="1680.5" width="33.8" height="33.5" fill="#000"/>
<rect x="393.3" y="1680.5" width="33.8" height="33.5" fill="#444"/>
<rect x="427.1" y="1680.5" width="33.8" height="33.5" fill="#080808"/>
<rect x="473" y="1680.5" width="33.8" height="33.5" fill="#999"/>
<rect x="506.8" y="1680.5" width="33.8" height="33.5" fill="#141414"/>
<rect x="540.6" y="1680.5" width="33.8" height="33.5" fill="#3c3c3c"/>
<rect x="1074.6" y="1680.5" width="33.8" height="33.5" fill="#2e2e2e"/>
<rect x="654.1" y="1714" width="33.8" height="33.5" fill="#7a7a7a"/>
<rect x="847.6" y="1714" width="33.8" height="33.5" fill="#4f4f4f"/>
<rect x="506.8" y="1754" width="33.8" height="33.5" fill="#a3a3a3"/>
<rect x="359.5" y="1787.5" width="33.8" height="33.5" fill="#a3a3a3"/>
<rect x="586.5" y="1821" width="33.8" height="33.5" fill="#7d7d7d"/>
<rect x="620.3" y="1821" width="67.6" height="33.5" fill="#a0a0a0"/>
</g>
<g stroke="#1a1a1a">
<use href="#c1r1" x="199" y="1535"/><use href="#c3r1" x="246" y="1535"/><use href="#c3r1" x="359.5" y="1535"/><use href="#c3r1" x="473" y="1535"/><use href="#c3r1" x="586.5" y="1535"/><use href="#c2r1" x="700" y="1535"/><use href="#c3r1" x="780" y="1535"/><use href="#c3r1" x="894" y="1535"/><use href="#c3r1" x="1007" y="1535"/><use href="#c2r1" x="1121" y="1535"/>
<use href="#c1r2" x="199" y="1574"/><use href="#c3r2" x="246" y="1574"/><use href="#c3r2" x="359.5" y="1574"/><use href="#c3r2" x="473" y="1574"/><use href="#c3r2" x="586.5" y="1574"/><use href="#c2r2" x="700" y="1574"/><use href="#c3r2" x="780" y="1574"/><use href="#c3r2" x="894" y="1574"/><use href="#c3r2" x="1007" y="1574"/><use href="#c2r2" x="1121" y="1574"/>
<use href="#c1r3" x="199" y="1647"/><use href="#c3r3" x="246" y="1647"/><use href="#c3r3" x="359.5" y="1647"/><use href="#c3r3" x="473" y="1647"/><use href="#c3r3" x="586.5" y="1647"/><use href="#c2r3" x="700" y="1647"/><use href="#c3r3" x="780" y="1647"/><use href="#c3r3" x="894" y="1647"/><use href="#c3r3" x="1007" y="1647"/><use href="#c2r3" x="1121" y="1647"/>
<use href="#c1r3" x="199" y="1754"/><use href="#c3r3" x="246" y="1754"/><use href="#c3r3" x="359.5" y="1754"/><use href="#c3r3" x="473" y="1754"/><use href="#c3r3" x="586.5" y="1754"/><use href="#c2r3" x="700" y="1754"/><use href="#c3r3" x="780" y="1754"/><use href="#c3r3" x="894" y="1754"/><use href="#c3r3" x="1007" y="1754"/><use href="#c2r3" x="1121" y="1754"/>
</g>
<g font-size="25" class="bd" text-anchor="end">
<text x="187" y="1561">D685E</text><text x="187" y="1600">D27N</text><text x="187" y="1633">T111M</text><text x="187" y="1673">A138S</text><text x="187" y="1706">D190V</text><text x="187" y="1740">E227G</text><text x="187" y="1780">A20T</text><text x="187" y="1813">D151E</text><text x="187" y="1847">M269I</text>
<text x="78" y="1561">PB1</text><text x="78" y="1616">NP</text><text x="78" y="1706">HA1</text><text x="78" y="1813">NA</text>
</g>
<path d="M93,1538H86V1566H93M93,1578H86V1637H93M93,1651H86V1744H93M93,1758H86V1851H93" fill="none" stroke="#000" stroke-width="2"/>
<g font-size="25" class="bd" text-anchor="middle">
<text x="215.9" y="1889">0</text>
<text x="262.9" y="1889">1</text><text x="296.7" y="1889">3</text><text x="330.5" y="1889">5</text>
<text x="376.4" y="1889">1</text><text x="410.2" y="1889">3</text><text x="444" y="1889">5</text>
<text x="489.9" y="1889">1</text><text x="523.7" y="1889">3</text><text x="557.5" y="1889">5</text>
<text x="603.4" y="1889">2</text><text x="637.2" y="1889">4</text><text x="671" y="1889">6</text>
<text x="716.9" y="1889">4</text><text x="750.7" y="1889">6</text>
<text x="796.9" y="1889">2</text><text x="830.7" y="1889">4</text><text x="864.5" y="1889">6</text>
<text x="910.9" y="1889">2</text><text x="944.7" y="1889">4</text><text x="978.5" y="1889">6</text>
<text x="1023.9" y="1889">4</text><text x="1057.7" y="1889">6</text><text x="1091.5" y="1889">8</text>
<text x="1137.9" y="1889">8</text><text x="1171.7" y="1889">10</text>
</g>
<text x="680" y="1942" font-size="28" class="bd" text-anchor="middle">Time (day of experiment)</text>
<rect x="1206" y="1535" width="29" height="320" fill="url(#gk)" stroke="#333" stroke-width="2"/>
<path d="M1206,1599H1214M1224,1599H1235M1206,1663H1214M1224,1663H1235M1206,1727H1214M1224,1727H1235M1206,1791H1214M1224,1791H1235" stroke="#000" stroke-width="2"/>
<g font-size="27"><text x="1251" y="1545">100</text><text x="1251" y="1609">80</text><text x="1251" y="1673">60</text><text x="1251" y="1737">40</text><text x="1251" y="1801">20</text><text x="1251" y="1865">0</text></g>

<!-- ================= PANEL H ================= -->
<text x="1366" y="1437" font-size="48" class="bd">H</text>
<g font-size="25" class="bd" text-anchor="middle">
<text x="1548.9" y="1455">I</text><text x="1629.7" y="1455">D1</text><text x="1743.7" y="1455">D2</text><text x="1857.7" y="1455">D3</text><text x="1954.8" y="1455">C1</text><text x="2051.7" y="1455">C2</text><text x="2148.8" y="1455">C3</text><text x="2228.8" y="1455">A1</text><text x="2309.8" y="1455">A2</text><text x="2389.8" y="1455">A3</text>
</g>
<g stroke="none">
<rect x="1760.6" y="1466" width="33.8" height="33.5" fill="#b9dff5"/>
<rect x="1579" y="1499.5" width="33.8" height="33.5" fill="#c0e3f6"/>
<rect x="2001" y="1540" width="33.8" height="33.5" fill="#9fd3f2"/>
<rect x="2068.6" y="1540" width="33.8" height="33.5" fill="#93cdf0"/>
<rect x="1954.8" y="1573.5" width="33.8" height="33.5" fill="#6cbdeb"/>
<rect x="1612.8" y="1607" width="33.8" height="33.5" fill="#c0e3f6"/>
<rect x="1579" y="1640.5" width="33.8" height="33.5" fill="#a5d5f2"/>
<rect x="2034.8" y="1674" width="33.8" height="33.5" fill="#b3ddf5"/>
<rect x="1646.6" y="1707.5" width="33.8" height="33.5" fill="#6fbfec"/>
<rect x="1726.8" y="1741" width="33.8" height="33.5" fill="#b2dcf4"/>
<rect x="1760.6" y="1741" width="33.8" height="33.5" fill="#99d0f1"/>
<rect x="1807" y="1741" width="33.8" height="33.5" fill="#bde2f6"/>
<rect x="1840.8" y="1741" width="33.8" height="33.5" fill="#78c3ed"/>
<rect x="1874.6" y="1741" width="33.8" height="33.5" fill="#93cdf0"/>
<rect x="2228.8" y="1741" width="33.8" height="33.5" fill="#a3d5f2"/>
<rect x="1532" y="1780.5" width="33.8" height="33.5" fill="#f5fafd"/>
<rect x="1726.8" y="1780.5" width="33.8" height="33.5" fill="#f8fbfd"/>
<rect x="1760.6" y="1780.5" width="33.8" height="33.5" fill="#f5fafd"/>
<rect x="1807" y="1780.5" width="33.8" height="33.5" fill="#eff7fc"/>
<rect x="1840.8" y="1780.5" width="33.8" height="33.5" fill="#e9f4fb"/>
<rect x="1874.6" y="1780.5" width="33.8" height="33.5" fill="#dbeefa"/>
<rect x="2001" y="1780.5" width="33.8" height="33.5" fill="#d9edf9"/>
<rect x="2034.8" y="1780.5" width="33.8" height="33.5" fill="#cde8f8"/>
<rect x="2068.6" y="1780.5" width="33.8" height="33.5" fill="#c7e5f7"/>
<rect x="2115" y="1780.5" width="67.6" height="33.5" fill="#5ab5e8"/>
<rect x="2276" y="1780.5" width="67.6" height="33.5" fill="#5ab5e8"/>
<rect x="2356" y="1780.5" width="67.6" height="33.5" fill="#5ab5e8"/>
<rect x="2195" y="1814" width="33.8" height="33.5" fill="#5ab5e8"/>
<rect x="2034.8" y="1854" width="33.8" height="33.5" fill="#8ecbef"/>
<rect x="1921" y="1887.5" width="33.8" height="33.5" fill="#a8d8f3"/>
</g>
<g stroke="#4a4a4a">
<use href="#c1r2" x="1532" y="1466"/><use href="#c3r2" x="1579" y="1466"/><use href="#c3r2" x="1693" y="1466"/><use href="#c3r2" x="1807" y="1466"/><use href="#c2r2" x="1921" y="1466"/><use href="#c3r2" x="2001" y="1466"/><use href="#c2r2" x="2115" y="1466"/><use href="#c2r2" x="2195" y="1466"/><use href="#c2r2" x="2276" y="1466"/><use href="#c2r2" x="2356" y="1466"/>
<use href="#c1r7" x="1532" y="1540"/><use href="#c3r7" x="1579" y="1540"/><use href="#c3r7" x="1693" y="1540"/><use href="#c3r7" x="1807" y="1540"/><use href="#c2r7" x="1921" y="1540"/><use href="#c3r7" x="2001" y="1540"/><use href="#c2r7" x="2115" y="1540"/><use href="#c2r7" x="2195" y="1540"/><use href="#c2r7" x="2276" y="1540"/><use href="#c2r7" x="2356" y="1540"/>
<use href="#c1r2" x="1532" y="1780.5"/><use href="#c3r2" x="1579" y="1780.5"/><use href="#c3r2" x="1693" y="1780.5"/><use href="#c3r2" x="1807" y="1780.5"/><use href="#c2r2" x="1921" y="1780.5"/><use href="#c3r2" x="2001" y="1780.5"/><use href="#c2r2" x="2115" y="1780.5"/><use href="#c2r2" x="2195" y="1780.5"/><use href="#c2r2" x="2276" y="1780.5"/><use href="#c2r2" x="2356" y="1780.5"/>
<use href="#c1r2" x="1532" y="1854"/><use href="#c3r2" x="1579" y="1854"/><use href="#c3r2" x="1693" y="1854"/><use href="#c3r2" x="1807" y="1854"/><use href="#c2r2" x="1921" y="1854"/><use href="#c3r2" x="2001" y="1854"/><use href="#c2r2" x="2115" y="1854"/><use href="#c2r2" x="2195" y="1854"/><use href="#c2r2" x="2276" y="1854"/><use href="#c2r2" x="2356" y="1854"/>
</g>
<g font-size="25" class="bd" text-anchor="end">
<text x="1517" y="1492">H128N</text><text x="1517" y="1525">V542A</text>
<text x="1517" y="1566">V29I</text><text x="1517" y="1599">Y130H</text><text x="1517" y="1633">N165S</text><text x="1517" y="1666">D166K</text><text x="1517" y="1700">Q166R</text><text x="1517" y="1733">D190V</text><text x="1517" y="1767">E227G</text>
<text x="1517" y="1806">V44A</text><text x="1517" y="1840">I77M</text>
<text x="1517" y="1880">F74L</text><text x="1517" y="1913">E119K</text>
<text x="1407" y="1508">PA</text><text x="1405" y="1666">HA1</text><text x="1407" y="1823">HA2</text><text x="1407" y="1897">NA</text>
</g>
<path d="M1423,1470H1415V1529H1423M1423,1544H1415V1770H1423M1423,1784H1415V1843H1423M1423,1858H1415V1917H1423" fill="none" stroke="#000" stroke-width="2"/>
<g font-size="25" class="bd" text-anchor="middle">
<text x="1548.9" y="1960">0</text>
<text x="1595.9" y="1960">1</text><text x="1629.7" y="1960">3</text><text x="1663.5" y="1960">5</text>
<text x="1709.9" y="1960">1</text><text x="1743.7" y="1960">3</text><text x="1777.5" y="1960">5</text>
<text x="1823.9" y="1960">1</text><text x="1857.7" y="1960">3</text><text x="1891.5" y="1960">5</text>
<text x="1937.9" y="1960">4</text><text x="1971.7" y="1960">6</text>
<text x="2017.9" y="1960">4</text><text x="2051.7" y="1960">6</text><text x="2085.5" y="1960">8</text>
<text x="2131.9" y="1960">4</text><text x="2165.7" y="1960">6</text>
<text x="2211.9" y="1960">6</text><text x="2245.7" y="1960">8</text>
<text x="2292.9" y="1960">6</text><text x="2326.7" y="1960">8</text>
<text x="2372.9" y="1960">8</text><text x="2406.7" y="1960">10</text>
</g>
<text x="1995" y="2011" font-size="28" class="bd" text-anchor="middle">Time (day of experiment)</text>
<rect x="2440" y="1463" width="36" height="458" fill="url(#gb)" stroke="#333" stroke-width="2"/>
<path d="M2440,1554.6H2448M2467,1554.6H2476M2440,1646.2H2448M2467,1646.2H2476M2440,1737.8H2448M2467,1737.8H2476M2440,1829.4H2448M2467,1829.4H2476" stroke="#222" stroke-width="2"/>
<g font-size="27"><text x="2492" y="1473">100</text><text x="2492" y="1565">80</text><text x="2492" y="1656">60</text><text x="2492" y="1748">40</text><text x="2492" y="1839">20</text><text x="2492" y="1931">0</text></g>
</svg>
</body></html>
